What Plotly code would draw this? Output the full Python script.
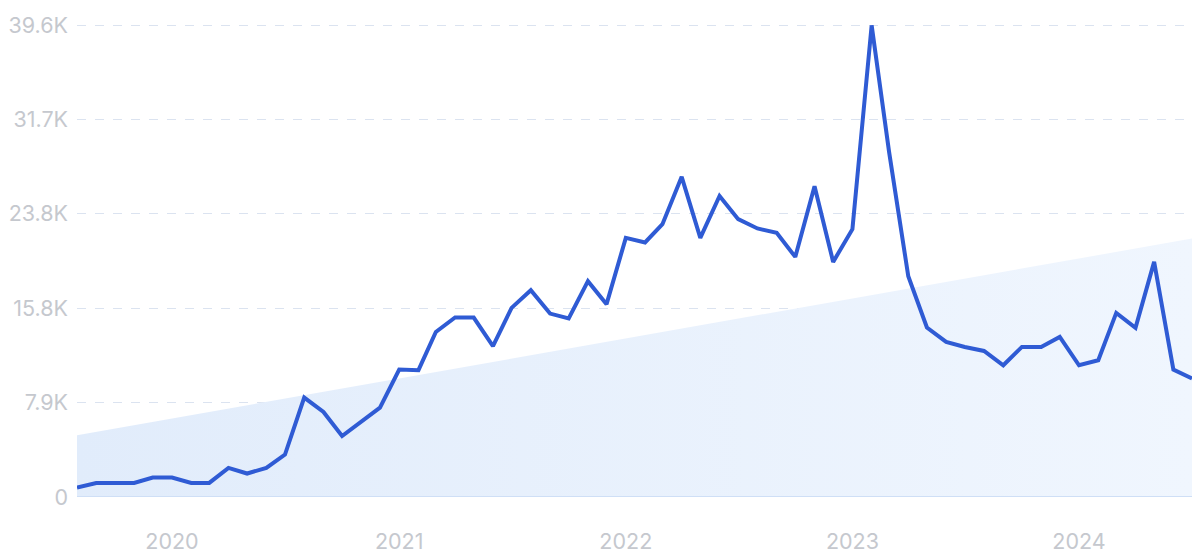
import pandas as pd
import plotly.graph_objects as go

# Monthly dates Aug 2019 .. Jul 2024
dates = pd.date_range("2019-08-01", "2024-07-01", freq="MS")

values = [790, 1180, 1180, 1180, 1630, 1630, 1180, 1180, 2440, 1970,
          2440, 3560, 8350, 7140, 5120, 6300, 7510, 10700, 10650, 13860,
          15070, 15070, 12660, 15880, 17360, 15400, 14990, 18120, 16190, 21760,
          21370, 22910, 26880, 21760, 25280, 23330, 22550, 22180, 20160, 26100,
          19740, 22490, 39600, 29000, 18540, 14230, 13020, 12600, 12260, 11060,
          12600, 12600, 13440, 11060, 11480, 15460, 14200, 19740, 10700, 9950]

trend_start = 5180
trend_end = 21700

tick_vals = [0, 7900, 15800, 23800, 31700, 39600]
tick_text = ["0", "7.9K", "15.8K", "23.8K", "31.7K", "39.6K"]
year_ticks = ["2020-01-01", "2021-01-01", "2022-01-01", "2023-01-01", "2024-01-01"]
year_text = ["2020", "2021", "2022", "2023", "2024"]

fig = go.Figure()

# Trend area
fig.add_trace(go.Scatter(
    x=[dates[0], dates[-1]], y=[trend_start, trend_end],
    mode="lines", line=dict(width=0, color="rgba(0,0,0,0)"),
    fill="tozeroy",
    fillgradient=dict(type="horizontal",
                      colorscale=[[0, "#e1ecfb"], [1, "#f0f6fe"]]),
    hoverinfo="skip", showlegend=False,
))

# Zero baseline
fig.add_trace(go.Scatter(
    x=[dates[0], dates[-1]], y=[0, 0], mode="lines",
    line=dict(color="#cfdff6", width=2), hoverinfo="skip", showlegend=False,
))

# Main series
fig.add_trace(go.Scatter(
    x=dates, y=values, mode="lines",
    line=dict(color="#2f5bd4", width=4),
    showlegend=False,
))

font = dict(family="Inter, Roboto, sans-serif", size=21.5, color="#c5c8ce")

fig.update_layout(
    width=1200, height=560,
    margin=dict(l=69, r=16, t=15, b=71),
    paper_bgcolor="white", plot_bgcolor="white",
    font=font,
    xaxis=dict(
        type="date",
        range=[dates[0], dates[-1]],
        tickvals=year_ticks, ticktext=year_text,
        showgrid=False, zeroline=False, showline=False,
        ticks="", ticklabelstandoff=29,
        tickfont=font, automargin=False,
    ),
    yaxis=dict(
        range=[0, 39800],
        tickvals=tick_vals, ticktext=tick_text,
        showgrid=True, gridcolor="#dbe3f0", griddash="dash", gridwidth=1,
        zeroline=False, showline=False,
        ticks="", ticklabelstandoff=8,
        tickfont=font, automargin=False,
    ),
)

fig.write_html("out.html")
